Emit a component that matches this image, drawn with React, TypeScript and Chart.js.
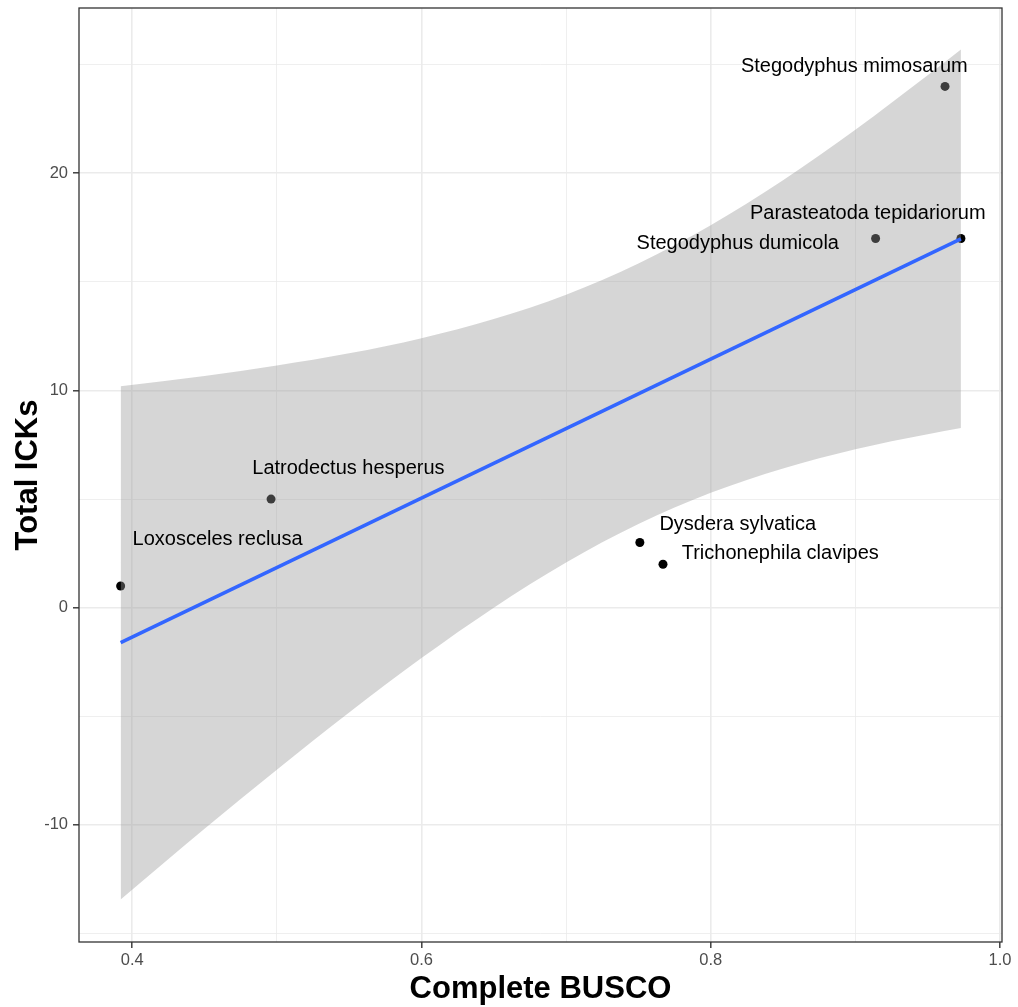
import React, { useEffect, useRef } from "react";
import { Chart, registerables } from "chart.js";

Chart.register(...registerables);

// Species (categories) and their values
const SPECIES = [
  "Loxosceles reclusa",
  "Latrodectus hesperus",
  "Dysdera sylvatica",
  "Trichonephila clavipes",
  "Stegodyphus dumicola",
  "Parasteatoda tepidariorum",
  "Stegodyphus mimosarum",
];
const BUSCO = [0.392, 0.496, 0.751, 0.767, 0.914, 0.973, 0.962];
const ICKS = [1, 5, 3, 2, 17, 17, 24];

// Repelled label positions (data coordinates, text centre)
const LABEL_X = [0.459, 0.5495, 0.8187, 0.8481, 0.8187, 0.9086, 0.8993];
const LABEL_Y = [3.16, 6.43, 3.85, 2.51, 16.78, 18.16, 24.91];

// Linear fit and its confidence band
const FIT_X = [0.392, 0.973];
const FIT_Y = [-1.61, 16.98];
const BAND_X = [0.392, 0.45, 0.5, 0.55, 0.6, 0.65, 0.7, 0.75, 0.8, 0.85, 0.9, 0.95, 0.973];
const BAND_UPPER = [10.2, 10.67, 11.15, 11.71, 12.41, 13.29, 14.41, 15.85, 17.61, 19.68, 22.0, 24.51, 25.7];
const BAND_LOWER = [-13.43, -10.18, -7.46, -4.82, -2.32, 0.0, 2.08, 3.85, 5.29, 6.41, 7.3, 7.99, 8.27];

// Axes
const X_TICKS = [0.4, 0.5, 0.6, 0.7, 0.8, 0.9, 1.0];
const X_TICK_LABELS = ["0.4", "", "0.6", "", "0.8", "", "1.0"];
const Y_TICKS = [-15, -10, -5, 0, 5, 10, 15, 20, 25];
const Y_TICK_LABELS = ["", "-10", "", "0", "", "10", "", "20", ""];
const X_MIN = 0.3632;
const X_MAX = 1.0014;
const Y_MIN = -15.39;
const Y_MAX = 27.61;
const X_TITLE = "Complete BUSCO";
const Y_TITLE = "Total ICKs";

const FONT = "'Liberation Sans', Arial, Helvetica, sans-serif";

export default function App() {
  const ref = useRef<HTMLCanvasElement | null>(null);

  useEffect(() => {
    if (!ref.current) return;

    const labelsPlugin = {
      id: "labelsAndFrame",
      afterDatasetsDraw(chart: any) {
        const { ctx, scales } = chart;
        ctx.save();
        ctx.fillStyle = "#000000";
        ctx.font = `20px ${FONT}`;
        ctx.textAlign = "center";
        ctx.textBaseline = "middle";
        SPECIES.forEach((name, i) => {
          const px = scales.x.getPixelForValue(LABEL_X[i]);
          const py = scales.y.getPixelForValue(LABEL_Y[i]);
          ctx.fillText(name, px, py);
        });
        ctx.restore();
      },
      afterDraw(chart: any) {
        const { ctx, chartArea } = chart;
        ctx.save();
        ctx.strokeStyle = "#333333";
        ctx.lineWidth = 1.3;
        ctx.strokeRect(
          chartArea.left,
          chartArea.top,
          chartArea.right - chartArea.left,
          chartArea.bottom - chartArea.top
        );
        ctx.fillStyle = "#000000";
        ctx.font = `bold 31px ${FONT}`;
        ctx.textAlign = "center";
        ctx.textBaseline = "alphabetic";
        ctx.fillText(X_TITLE, (chartArea.left + chartArea.right) / 2, 998);
        ctx.translate(37, (chartArea.top + chartArea.bottom) / 2);
        ctx.rotate(-Math.PI / 2);
        ctx.fillText(Y_TITLE, 0, 0);
        ctx.restore();
      },
    };

    const xMajor = new Set(X_TICKS.filter((_, i) => X_TICK_LABELS[i] !== ""));
    const yMajor = new Set(Y_TICKS.filter((_, i) => Y_TICK_LABELS[i] !== ""));

    const chart = new Chart(ref.current, {
      type: "scatter",
      data: {
        datasets: [
          {
            label: "fit",
            data: FIT_X.map((x, i) => ({ x, y: FIT_Y[i] })),
            showLine: true,
            borderColor: "#3366FF",
            borderWidth: 3.5,
            pointRadius: 0,
            order: 1,
          } as any,
          {
            label: "upper",
            data: BAND_X.map((x, i) => ({ x, y: BAND_UPPER[i] })),
            showLine: true,
            borderWidth: 0,
            borderColor: "rgba(0,0,0,0)",
            pointRadius: 0,
            cubicInterpolationMode: "monotone",
            fill: "+1",
            backgroundColor: "rgba(153,153,153,0.4)",
            order: 2,
          } as any,
          {
            label: "lower",
            data: BAND_X.map((x, i) => ({ x, y: BAND_LOWER[i] })),
            showLine: true,
            borderWidth: 0,
            borderColor: "rgba(0,0,0,0)",
            pointRadius: 0,
            cubicInterpolationMode: "monotone",
            fill: false,
            order: 2,
          } as any,
          {
            label: "points",
            data: BUSCO.map((x, i) => ({ x, y: ICKS[i] })),
            pointRadius: 4.5,
            pointBackgroundColor: "#000000",
            pointBorderWidth: 0,
            order: 3,
          } as any,
        ],
      },
      options: {
        responsive: false,
        animation: false,
        events: [],
        layout: { padding: { top: 8, right: 16, left: 0, bottom: 0 } },
        plugins: {
          legend: { display: false },
          tooltip: { enabled: false },
        },
        scales: {
          x: {
            type: "linear",
            min: X_MIN,
            max: X_MAX,
            afterBuildTicks: (scale: any) => {
              scale.ticks = X_TICKS.map((v) => ({ value: v }));
            },
            afterFit: (scale: any) => {
              scale.height = 65;
              scale.paddingLeft = 0;
              scale.paddingRight = 0;
            },
            border: { display: false },
            grid: {
              color: "#EBEBEB",
              lineWidth: (c: any) => (xMajor.has(c.tick?.value) ? 1.6 : 0.8),
              tickColor: (c: any) => (xMajor.has(c.tick?.value) ? "#333333" : "rgba(0,0,0,0)"),
              tickLength: 6,
              tickWidth: 1.4,
            },
            ticks: {
              autoSkip: false,
              maxRotation: 0,
              padding: 3,
              color: "#4D4D4D",
              font: { family: FONT, size: 16.5 },
              callback: (v: any) => {
                const i = X_TICKS.findIndex((t) => Math.abs(t - Number(v)) < 1e-9);
                return i >= 0 ? X_TICK_LABELS[i] : "";
              },
            },
          },
          y: {
            type: "linear",
            min: Y_MIN,
            max: Y_MAX,
            afterBuildTicks: (scale: any) => {
              scale.ticks = Y_TICKS.map((v) => ({ value: v }));
            },
            afterFit: (scale: any) => {
              scale.width = 79;
              scale.paddingTop = 0;
              scale.paddingBottom = 0;
            },
            border: { display: false },
            grid: {
              color: "#EBEBEB",
              lineWidth: (c: any) => (yMajor.has(c.tick?.value) ? 1.6 : 0.8),
              tickColor: (c: any) => (yMajor.has(c.tick?.value) ? "#333333" : "rgba(0,0,0,0)"),
              tickLength: 6,
              tickWidth: 1.4,
            },
            ticks: {
              autoSkip: false,
              padding: 5,
              color: "#4D4D4D",
              font: { family: FONT, size: 16.5 },
              callback: (v: any) => {
                const i = Y_TICKS.findIndex((t) => Math.abs(t - Number(v)) < 1e-9);
                return i >= 0 ? Y_TICK_LABELS[i] : "";
              },
            },
          },
        },
      },
      plugins: [labelsPlugin],
    } as any);

    return () => chart.destroy();
  }, []);

  return (
    <div style={{ position: "absolute", left: 0, top: 0, width: 1018, height: 1007, background: "#ffffff" }}>
      <canvas ref={ref} width={1018} height={1007} style={{ display: "block" }} />
    </div>
  );
}
